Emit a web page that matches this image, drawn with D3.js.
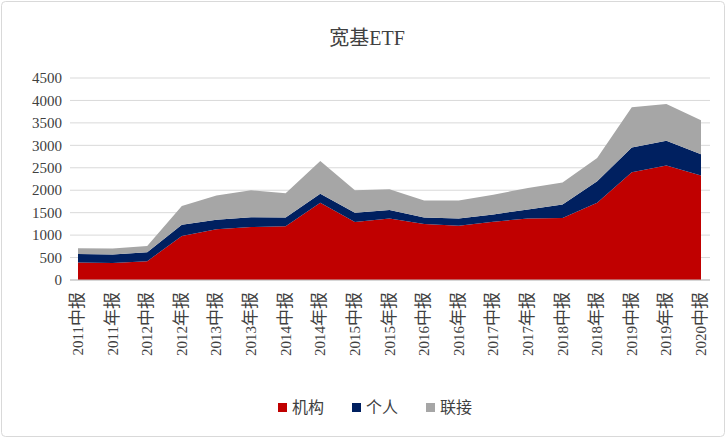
<!DOCTYPE html>
<html><head><meta charset="utf-8">
<script src="https://cdn.jsdelivr.net/npm/d3@7/dist/d3.min.js"></script>
<style>body{margin:0;background:#fff}</style>
</head><body>
<div id="chart"></div>
<script>
const categories = ["2011中报","2011年报","2012中报","2012年报","2013中报","2013年报","2014中报","2014年报","2015中报","2015年报","2016中报","2016年报","2017中报","2017年报","2018中报","2018年报","2019中报","2019年报","2020中报"];
const institution = [390,380,420,980,1130,1180,1200,1720,1290,1370,1250,1210,1300,1370,1380,1720,2400,2550,2330];
const individual = [190,190,200,250,210,220,190,200,210,190,140,160,160,200,300,480,550,550,470];
const linked = [130,130,140,420,540,600,540,730,500,460,380,400,440,480,490,520,900,820,760];
const seriesNames = ["机构","个人","联接"];
const colors = ["#c00000","#002060","#a6a6a6"];

const width = 726, height = 438;
const margin = {top: 78, right: 16, bottom: 158, left: 70};
const font = "'Liberation Serif','DejaVu Serif','Noto Sans CJK SC',serif";

const svg = d3.select("#chart").append("svg")
  .attr("width", width).attr("height", height)
  .style("font-family", font);

svg.append("rect").attr("x", 1.5).attr("y", 1.5).attr("width", width - 3).attr("height", height - 3)
  .attr("rx", 4).attr("fill", "#fff").attr("stroke", "#d9d9d9");

svg.append("text").attr("x", width / 2 + 4).attr("y", 45).attr("text-anchor", "middle")
  .attr("font-size", 20).attr("fill", "#404040").text("宽基ETF");

const rows = categories.map((c, i) => ({c, 机构: institution[i], 个人: individual[i], 联接: linked[i]}));
const stack = d3.stack().keys(seriesNames)(rows);

const x = d3.scalePoint().domain(categories).range([margin.left + 8, width - margin.right - 9]);
const y = d3.scaleLinear().domain([0, 4500]).range([height - margin.bottom, margin.top]);

svg.append("g").selectAll("line").data(y.ticks(9)).join("line")
  .attr("x1", margin.left).attr("x2", width - margin.right)
  .attr("y1", d => y(d)).attr("y2", d => y(d))
  .attr("stroke", "#d9d9d9");

const area = d3.area().x((d, i) => x(categories[i])).y0(d => y(d[0])).y1(d => y(d[1]));
svg.append("g").selectAll("path").data(stack).join("path")
  .attr("d", area).attr("fill", (d, i) => colors[i]);

svg.append("line").attr("x1", margin.left).attr("x2", width - margin.right)
  .attr("y1", y(0)).attr("y2", y(0)).attr("stroke", "#bfbfbf");

svg.append("g").selectAll("text").data(y.ticks(9)).join("text")
  .attr("x", margin.left - 8).attr("y", d => y(d)).attr("dy", "0.35em")
  .attr("text-anchor", "end").attr("font-size", 15).attr("fill", "#404040").text(d => d);

const xl = svg.append("g").selectAll("text").data(categories).join("text")
  .attr("transform", d => `translate(${x(d) + 5},${y(0) + 12}) rotate(-90)`)
  .attr("text-anchor", "end").attr("font-size", 15).attr("fill", "#404040");
xl.append("tspan").text(d => d.slice(0, 4));
xl.append("tspan").attr("font-size", 17).text(d => d.slice(4));

const legend = svg.append("g").selectAll("g").data(seriesNames).join("g")
  .attr("transform", (d, i) => `translate(${278 + i * 74},${403})`);
legend.append("rect").attr("width", 9).attr("height", 9).attr("fill", (d, i) => colors[i]);
legend.append("text").attr("x", 14).attr("y", 10).attr("font-size", 16).attr("fill", "#404040").text(d => d);
</script>
</body></html>
